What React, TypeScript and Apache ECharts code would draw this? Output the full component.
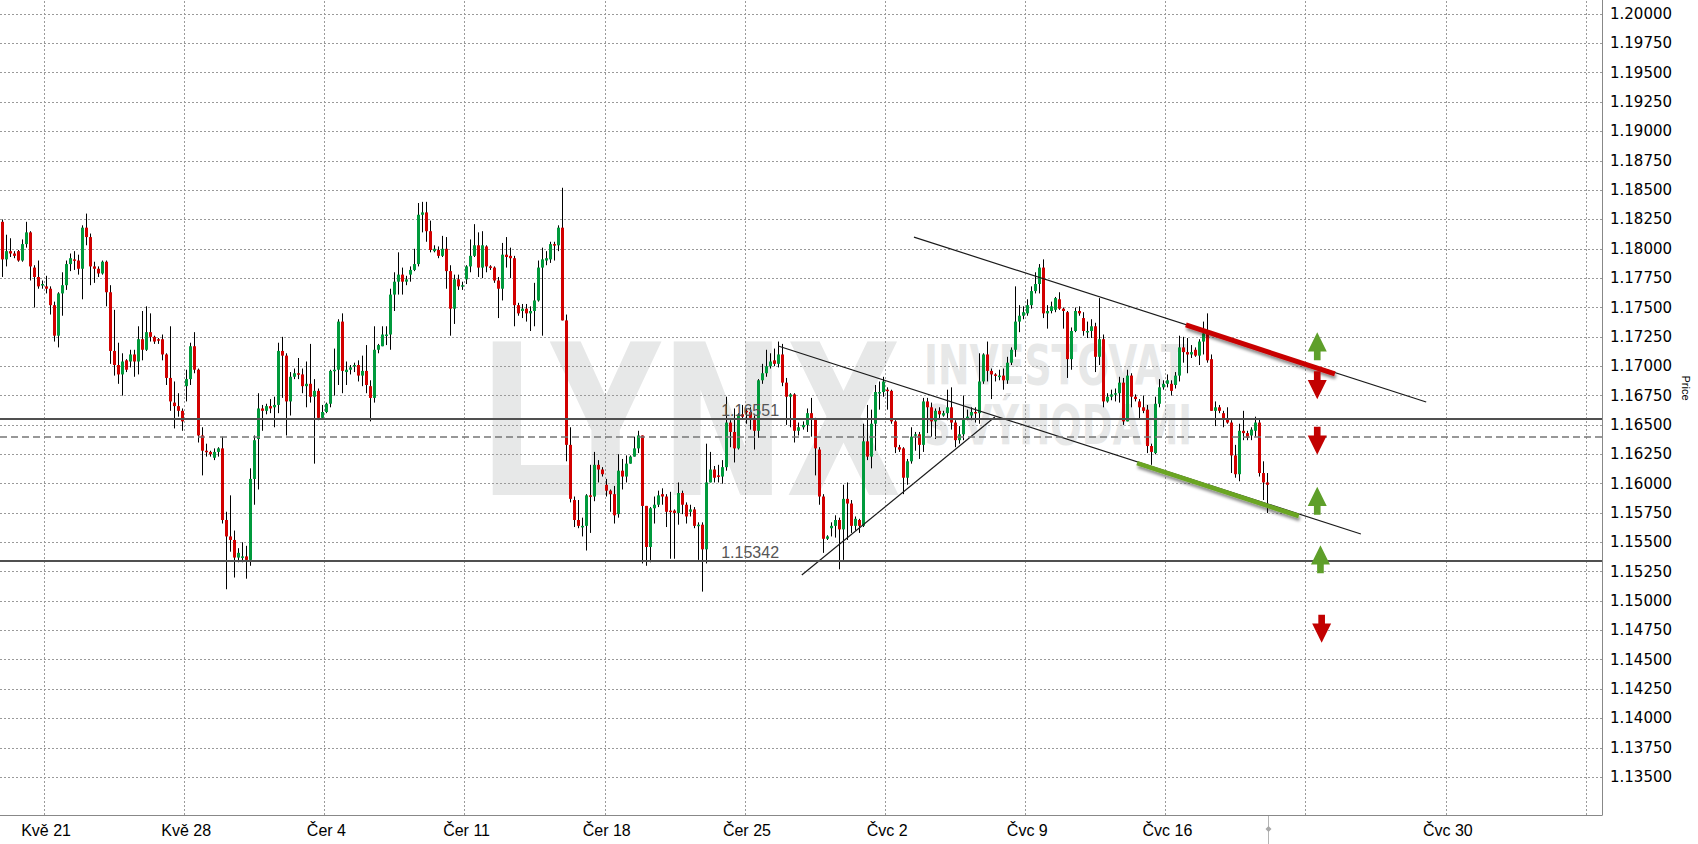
import React, { useEffect, useRef } from 'react';
import * as echarts from 'echarts';

// ---- candle data (4h EUR/USD), index 0..316 ----
const OPEN = [
  1.1823, 1.1791, 1.1798, 1.1796, 1.1798, 1.1790, 1.1804, 1.1814, 1.1784, 1.1776,
  1.1769, 1.1768, 1.1766, 1.1752, 1.1726, 1.1762, 1.1769, 1.1787, 1.1791, 1.1790,
  1.1783, 1.1818, 1.1810, 1.1785, 1.1783, 1.1779, 1.1789, 1.1763, 1.1713, 1.1701,
  1.1693, 1.1705, 1.1704, 1.1710, 1.1704, 1.1723, 1.1714, 1.1729, 1.1725, 1.1723,
  1.1723, 1.1710, 1.1690, 1.1669, 1.1666, 1.1662, 1.1683, 1.1689, 1.1717, 1.1697,
  1.1641, 1.1628, 1.1627, 1.1622, 1.1627, 1.1630, 1.1569, 1.1555, 1.1552, 1.1537,
  1.1537, 1.1538, 1.1535, 1.1604, 1.1638, 1.1664, 1.1662, 1.1666, 1.1665, 1.1667,
  1.1713, 1.1709, 1.1670, 1.1691, 1.1694, 1.1693, 1.1683, 1.1685, 1.1674, 1.1679,
  1.1656, 1.1661, 1.1668, 1.1696, 1.1697, 1.1738, 1.1695, 1.1697, 1.1700, 1.1701,
  1.1692, 1.1696, 1.1683, 1.1673, 1.1714, 1.1717, 1.1726, 1.1727, 1.1761, 1.1772,
  1.1778, 1.1772, 1.1778, 1.1782, 1.1787, 1.1829, 1.1831, 1.1815, 1.1798, 1.1799,
  1.1794, 1.1800, 1.1781, 1.1749, 1.1774, 1.1768, 1.1774, 1.1785, 1.1794, 1.1803,
  1.1784, 1.1802, 1.1785, 1.1784, 1.1773, 1.1766, 1.1795, 1.1794, 1.1792, 1.1752,
  1.1747, 1.1749, 1.1745, 1.1747, 1.1756, 1.1784, 1.1790, 1.1791, 1.1804, 1.1803,
  1.1818, 1.1739, 1.1633, 1.1586, 1.1569, 1.1563, 1.1564, 1.1590, 1.1589, 1.1616,
  1.1612, 1.1599, 1.1594, 1.1591, 1.1574, 1.1611, 1.1606, 1.1617, 1.1623, 1.1630,
  1.1641, 1.1581, 1.1546, 1.1579, 1.1582, 1.1591, 1.1589, 1.1577, 1.1577, 1.1575,
  1.1592, 1.1582, 1.1576, 1.1578, 1.1564, 1.1565, 1.1544, 1.1601, 1.1612, 1.1607,
  1.1606, 1.1614, 1.1652, 1.1644, 1.1630, 1.1659, 1.1662, 1.1661, 1.1656, 1.1645,
  1.1688, 1.1694, 1.1700, 1.1705, 1.1702, 1.1710, 1.1686, 1.1674, 1.1676, 1.1645,
  1.1648, 1.1650, 1.1660, 1.1655, 1.1629, 1.1589, 1.1553, 1.1562, 1.1564, 1.1569,
  1.1561, 1.1587, 1.1583, 1.1564, 1.1569, 1.1564, 1.1636, 1.1623, 1.1651, 1.1677,
  1.1678, 1.1680, 1.1679, 1.1653, 1.1631, 1.1630, 1.1605, 1.1619, 1.1641, 1.1642,
  1.1633, 1.1670, 1.1665, 1.1653, 1.1662, 1.1658, 1.1660, 1.1665, 1.1652, 1.1637,
  1.1642, 1.1655, 1.1658, 1.1661, 1.1660, 1.1687, 1.1710, 1.1696, 1.1693, 1.1691,
  1.1692, 1.1688, 1.1703, 1.1714, 1.1738, 1.1743, 1.1745, 1.1752, 1.1764, 1.1770,
  1.1784, 1.1745, 1.1747, 1.1748, 1.1757, 1.1749, 1.1746, 1.1706, 1.1730, 1.1747,
  1.1741, 1.1729, 1.1730, 1.1734, 1.1708, 1.1723, 1.1670, 1.1674, 1.1676, 1.1677,
  1.1686, 1.1653, 1.1692, 1.1674, 1.1670, 1.1665, 1.1663, 1.1632, 1.1626, 1.1668,
  1.1682, 1.1685, 1.1685, 1.1684, 1.1692, 1.1716, 1.1712, 1.1710, 1.1714, 1.1709,
  1.1721, 1.1728, 1.1706, 1.1662, 1.1665, 1.1660, 1.1655, 1.1652, 1.1624, 1.1608,
  1.1645, 1.1643, 1.1641, 1.1645, 1.1652, 1.1609, 1.1601,
];
const CLOSE = [
  1.1791, 1.1798, 1.1796, 1.1794, 1.1790, 1.1804, 1.1814, 1.1785, 1.1776, 1.1768,
  1.1770, 1.1766, 1.1752, 1.1726, 1.1762, 1.1769, 1.1787, 1.1792, 1.1790, 1.1783,
  1.1818, 1.1810, 1.1785, 1.1783, 1.1779, 1.1789, 1.1763, 1.1713, 1.1701, 1.1693,
  1.1704, 1.1697, 1.1710, 1.1704, 1.1723, 1.1714, 1.1729, 1.1725, 1.1721, 1.1722,
  1.1710, 1.1690, 1.1670, 1.1666, 1.1662, 1.1653, 1.1689, 1.1717, 1.1697, 1.1641,
  1.1628, 1.1627, 1.1625, 1.1627, 1.1630, 1.1569, 1.1555, 1.1552, 1.1537, 1.1541,
  1.1538, 1.1535, 1.1604, 1.1637, 1.1664, 1.1662, 1.1666, 1.1664, 1.1667, 1.1713,
  1.1709, 1.1670, 1.1691, 1.1694, 1.1693, 1.1683, 1.1685, 1.1674, 1.1679, 1.1656,
  1.1661, 1.1668, 1.1696, 1.1697, 1.1738, 1.1696, 1.1697, 1.1699, 1.1701, 1.1692,
  1.1696, 1.1684, 1.1673, 1.1714, 1.1718, 1.1727, 1.1727, 1.1761, 1.1772, 1.1778,
  1.1772, 1.1774, 1.1782, 1.1787, 1.1829, 1.1831, 1.1815, 1.1799, 1.1800, 1.1794,
  1.1800, 1.1781, 1.1749, 1.1774, 1.1768, 1.1769, 1.1785, 1.1794, 1.1803, 1.1784,
  1.1803, 1.1785, 1.1784, 1.1773, 1.1766, 1.1795, 1.1793, 1.1792, 1.1752, 1.1745,
  1.1749, 1.1745, 1.1747, 1.1756, 1.1784, 1.1791, 1.1792, 1.1804, 1.1803, 1.1818,
  1.1739, 1.1633, 1.1587, 1.1569, 1.1564, 1.1564, 1.1590, 1.1589, 1.1616, 1.1612,
  1.1608, 1.1594, 1.1591, 1.1573, 1.1611, 1.1606, 1.1617, 1.1623, 1.1630, 1.1641,
  1.1581, 1.1546, 1.1579, 1.1582, 1.1590, 1.1589, 1.1576, 1.1576, 1.1575, 1.1592,
  1.1582, 1.1572, 1.1578, 1.1564, 1.1565, 1.1544, 1.1601, 1.1612, 1.1605, 1.1606,
  1.1614, 1.1652, 1.1644, 1.1630, 1.1659, 1.1657, 1.1661, 1.1656, 1.1645, 1.1688,
  1.1694, 1.1700, 1.1704, 1.1702, 1.1710, 1.1686, 1.1674, 1.1676, 1.1645, 1.1648,
  1.1650, 1.1660, 1.1655, 1.1630, 1.1589, 1.1553, 1.1555, 1.1564, 1.1569, 1.1561,
  1.1587, 1.1583, 1.1564, 1.1570, 1.1564, 1.1636, 1.1623, 1.1651, 1.1678, 1.1678,
  1.1687, 1.1679, 1.1653, 1.1631, 1.1629, 1.1605, 1.1619, 1.1640, 1.1642, 1.1633,
  1.1670, 1.1665, 1.1653, 1.1662, 1.1659, 1.1660, 1.1665, 1.1652, 1.1637, 1.1642,
  1.1655, 1.1657, 1.1661, 1.1660, 1.1687, 1.1710, 1.1696, 1.1693, 1.1692, 1.1692,
  1.1688, 1.1703, 1.1714, 1.1738, 1.1743, 1.1746, 1.1752, 1.1764, 1.1770, 1.1784,
  1.1745, 1.1747, 1.1751, 1.1758, 1.1749, 1.1747, 1.1706, 1.1730, 1.1747, 1.1745,
  1.1730, 1.1730, 1.1734, 1.1708, 1.1723, 1.1670, 1.1674, 1.1676, 1.1677, 1.1686,
  1.1653, 1.1692, 1.1674, 1.1672, 1.1665, 1.1662, 1.1632, 1.1627, 1.1668, 1.1682,
  1.1685, 1.1688, 1.1679, 1.1692, 1.1716, 1.1712, 1.1710, 1.1712, 1.1709, 1.1721,
  1.1728, 1.1705, 1.1662, 1.1665, 1.1662, 1.1655, 1.1652, 1.1624, 1.1608, 1.1645,
  1.1643, 1.1639, 1.1646, 1.1652, 1.1609, 1.1601, 1.1599,
];
const LOW = [
  1.1776, 1.1785, 1.1793, 1.1792, 1.1789, 1.1789, 1.1801, 1.1773, 1.1750, 1.1766,
  1.1766, 1.1762, 1.1744, 1.1721, 1.1716, 1.1743, 1.1765, 1.1781, 1.1782, 1.1778,
  1.1757, 1.1803, 1.1769, 1.1771, 1.1776, 1.1778, 1.1751, 1.1702, 1.1692, 1.1685,
  1.1675, 1.1695, 1.1699, 1.1691, 1.1693, 1.1705, 1.1713, 1.1721, 1.1719, 1.1719,
  1.1705, 1.1684, 1.1662, 1.1647, 1.1657, 1.1645, 1.1670, 1.1684, 1.1694, 1.1635,
  1.1607, 1.1623, 1.1623, 1.1620, 1.1623, 1.1566, 1.1510, 1.1542, 1.1520, 1.1533,
  1.1533, 1.1519, 1.1530, 1.1582, 1.1595, 1.1645, 1.1659, 1.1660, 1.1648, 1.1660,
  1.1673, 1.1641, 1.1658, 1.1689, 1.1689, 1.1677, 1.1665, 1.1669, 1.1617, 1.1654,
  1.1655, 1.1660, 1.1665, 1.1675, 1.1684, 1.1677, 1.1684, 1.1693, 1.1695, 1.1687,
  1.1683, 1.1677, 1.1653, 1.1669, 1.1711, 1.1717, 1.1718, 1.1714, 1.1747, 1.1761,
  1.1761, 1.1769, 1.1772, 1.1781, 1.1785, 1.1814, 1.1806, 1.1797, 1.1797, 1.1792,
  1.1793, 1.1766, 1.1726, 1.1736, 1.1765, 1.1765, 1.1770, 1.1780, 1.1793, 1.1776,
  1.1775, 1.1780, 1.1782, 1.1771, 1.1741, 1.1756, 1.1784, 1.1775, 1.1734, 1.1743,
  1.1741, 1.1738, 1.1730, 1.1734, 1.1755, 1.1726, 1.1786, 1.1788, 1.1790, 1.1798,
  1.1739, 1.1619, 1.1584, 1.1563, 1.1562, 1.1555, 1.1543, 1.1558, 1.1585, 1.1601,
  1.1606, 1.1589, 1.1576, 1.1566, 1.1571, 1.1595, 1.1601, 1.1617, 1.1623, 1.1626,
  1.1532, 1.1530, 1.1533, 1.1566, 1.1580, 1.1582, 1.1563, 1.1536, 1.1536, 1.1565,
  1.1574, 1.1566, 1.1572, 1.1562, 1.1535, 1.1508, 1.1532, 1.1601, 1.1601, 1.1601,
  1.1600, 1.1611, 1.1631, 1.1618, 1.1629, 1.1655, 1.1651, 1.1646, 1.1629, 1.1639,
  1.1685, 1.1691, 1.1698, 1.1700, 1.1699, 1.1683, 1.1650, 1.1648, 1.1635, 1.1641,
  1.1646, 1.1644, 1.1640, 1.1607, 1.1582, 1.1541, 1.1552, 1.1555, 1.1554, 1.1527,
  1.1535, 1.1552, 1.1558, 1.1560, 1.1558, 1.1563, 1.1620, 1.1613, 1.1628, 1.1663,
  1.1674, 1.1663, 1.1651, 1.1626, 1.1627, 1.1591, 1.1599, 1.1617, 1.1628, 1.1621,
  1.1627, 1.1643, 1.1640, 1.1638, 1.1655, 1.1657, 1.1654, 1.1646, 1.1631, 1.1634,
  1.1637, 1.1654, 1.1654, 1.1652, 1.1651, 1.1685, 1.1687, 1.1672, 1.1687, 1.1688,
  1.1680, 1.1685, 1.1701, 1.1708, 1.1729, 1.1740, 1.1743, 1.1749, 1.1762, 1.1762,
  1.1741, 1.1732, 1.1745, 1.1746, 1.1748, 1.1732, 1.1690, 1.1697, 1.1729, 1.1743,
  1.1726, 1.1724, 1.1724, 1.1695, 1.1701, 1.1665, 1.1669, 1.1671, 1.1670, 1.1669,
  1.1650, 1.1653, 1.1665, 1.1670, 1.1655, 1.1660, 1.1626, 1.1616, 1.1625, 1.1665,
  1.1680, 1.1682, 1.1675, 1.1681, 1.1687, 1.1703, 1.1694, 1.1707, 1.1708, 1.1701,
  1.1710, 1.1703, 1.1662, 1.1649, 1.1660, 1.1648, 1.1651, 1.1609, 1.1605, 1.1602,
  1.1637, 1.1637, 1.1637, 1.1640, 1.1606, 1.1586, 1.1575,
];
const HIGH = [
  1.1825, 1.1812, 1.1809, 1.1798, 1.1799, 1.1808, 1.1823, 1.1815, 1.1786, 1.1790,
  1.1773, 1.1777, 1.1768, 1.1755, 1.1763, 1.1780, 1.1790, 1.1796, 1.1798, 1.1795,
  1.1820, 1.1830, 1.1813, 1.1789, 1.1785, 1.1790, 1.1790, 1.1769, 1.1748, 1.1720,
  1.1711, 1.1706, 1.1714, 1.1714, 1.1734, 1.1747, 1.1751, 1.1745, 1.1726, 1.1724,
  1.1727, 1.1711, 1.1734, 1.1687, 1.1677, 1.1664, 1.1697, 1.1720, 1.1729, 1.1698,
  1.1648, 1.1634, 1.1628, 1.1630, 1.1631, 1.1640, 1.1576, 1.1590, 1.1560, 1.1545,
  1.1550, 1.1547, 1.1613, 1.1641, 1.1677, 1.1667, 1.1668, 1.1672, 1.1674, 1.1720,
  1.1725, 1.1711, 1.1695, 1.1698, 1.1707, 1.1698, 1.1704, 1.1719, 1.1689, 1.1681,
  1.1667, 1.1669, 1.1697, 1.1715, 1.1740, 1.1745, 1.1704, 1.1701, 1.1703, 1.1705,
  1.1709, 1.1718, 1.1688, 1.1734, 1.1719, 1.1734, 1.1734, 1.1766, 1.1780, 1.1797,
  1.1784, 1.1777, 1.1785, 1.1800, 1.1839, 1.1840, 1.1840, 1.1824, 1.1803, 1.1802,
  1.1811, 1.1810, 1.1786, 1.1778, 1.1778, 1.1772, 1.1786, 1.1808, 1.1821, 1.1814,
  1.1815, 1.1803, 1.1786, 1.1785, 1.1776, 1.1805, 1.1810, 1.1801, 1.1794, 1.1754,
  1.1753, 1.1753, 1.1751, 1.1771, 1.1790, 1.1801, 1.1798, 1.1806, 1.1806, 1.1820,
  1.1852, 1.1744, 1.1648, 1.1589, 1.1586, 1.1571, 1.1591, 1.1616, 1.1627, 1.1620,
  1.1614, 1.1604, 1.1595, 1.1598, 1.1625, 1.1621, 1.1624, 1.1624, 1.1640, 1.1645,
  1.1641, 1.1581, 1.1580, 1.1589, 1.1594, 1.1596, 1.1591, 1.1593, 1.1578, 1.1601,
  1.1594, 1.1584, 1.1582, 1.1580, 1.1567, 1.1567, 1.1634, 1.1627, 1.1615, 1.1616,
  1.1620, 1.1674, 1.1654, 1.1664, 1.1660, 1.1667, 1.1664, 1.1665, 1.1658, 1.1689,
  1.1702, 1.1714, 1.1711, 1.1715, 1.1721, 1.1719, 1.1690, 1.1677, 1.1677, 1.1652,
  1.1653, 1.1664, 1.1673, 1.1656, 1.1631, 1.1591, 1.1556, 1.1567, 1.1573, 1.1571,
  1.1599, 1.1601, 1.1586, 1.1572, 1.1570, 1.1651, 1.1667, 1.1663, 1.1684, 1.1687,
  1.1691, 1.1682, 1.1680, 1.1654, 1.1633, 1.1631, 1.1621, 1.1648, 1.1644, 1.1644,
  1.1673, 1.1673, 1.1669, 1.1664, 1.1665, 1.1662, 1.1680, 1.1682, 1.1654, 1.1649,
  1.1675, 1.1663, 1.1665, 1.1665, 1.1711, 1.1711, 1.1721, 1.1698, 1.1694, 1.1697,
  1.1698, 1.1708, 1.1716, 1.1768, 1.1752, 1.1751, 1.1757, 1.1768, 1.1780, 1.1787,
  1.1791, 1.1752, 1.1755, 1.1759, 1.1763, 1.1750, 1.1747, 1.1733, 1.1750, 1.1751,
  1.1746, 1.1738, 1.1740, 1.1737, 1.1758, 1.1727, 1.1677, 1.1680, 1.1681, 1.1691,
  1.1690, 1.1697, 1.1694, 1.1676, 1.1672, 1.1675, 1.1667, 1.1634, 1.1674, 1.1689,
  1.1688, 1.1693, 1.1688, 1.1695, 1.1726, 1.1725, 1.1724, 1.1718, 1.1716, 1.1723,
  1.1738, 1.1745, 1.1710, 1.1670, 1.1667, 1.1662, 1.1665, 1.1654, 1.1633, 1.1651,
  1.1662, 1.1645, 1.1648, 1.1657, 1.1655, 1.1619, 1.1609,
];

// ---- axes ----
const SLOT_COUNT = 400; // candle slots on the time axis (incl. empty future slots)
const WEEK_START = [11, 46, 81, 116, 151, 186, 221, 256, 291, 326, 361, 396];
const WEEK_LABELS = ['Kvě 21', 'Kvě 28', 'Čer 4', 'Čer 11', 'Čer 18', 'Čer 25', 'Čvc 2', 'Čvc 9', 'Čvc 16', '', 'Čvc 30', ''];
const Y_TICKS = [
  1.135, 1.1375, 1.14, 1.1425, 1.145, 1.1475, 1.15, 1.1525, 1.155, 1.1575,
  1.16, 1.1625, 1.165, 1.1675, 1.17, 1.1725, 1.175, 1.1775, 1.18, 1.1825,
  1.185, 1.1875, 1.19, 1.1925, 1.195, 1.1975, 1.2,
];
const Y_MIN = 1.131772;
const Y_MAX = 1.201193;

// ---- annotations (x in slot units, y in price) ----
const PRICE_LEVELS = [1.16551, 1.15342];
const LEVEL_LABEL_X = 187.3;
const DASHED_LEVEL = 1.164;
const TREND_LINES = [
  [194.3, 1.17172, 339.8, 1.15571],
  [200.2, 1.15221, 248.4, 1.16567],
  [228.2, 1.181, 356.1, 1.16695],
];
const RED_SEGMENT = [296.1, 1.17351, 333.3, 1.16934];
const GREEN_SEGMENT = [283.9, 1.16175, 324.3, 1.15724];
const ARROWS = [
  { x: 328.9, y: 1.1717, dir: 'up' },
  { x: 328.9, y: 1.16837, dir: 'down' },
  { x: 328.9, y: 1.16365, dir: 'down' },
  { x: 328.9, y: 1.15854, dir: 'up' },
  { x: 329.7, y: 1.15356, dir: 'up' },
  { x: 330.0, y: 1.14764, dir: 'down' },
];

const GREEN = '#009a3c';
const RED = '#d20000';
const ARROW_GREEN = '#5e9f2a';
const ARROW_RED = '#c20000';
const UP_PATH = 'path://M10,0L20,20L13.5,20L13.5,29L6.5,29L6.5,20L0,20Z';
const DOWN_PATH = 'path://M6.5,0L13.5,0L13.5,9L20,9L10,29L0,9L6.5,9Z';
const WM = '#e7e8e8';

function buildOption() {
  const categories = Array.from({ length: SLOT_COUNT }, (_, i) => String(i));
  const labelAt: Record<number, string> = {};
  WEEK_START.forEach((s, k) => (labelAt[s] = WEEK_LABELS[k]));

  const candles = OPEN.map((o, i) => [i, o, CLOSE[i], LOW[i], HIGH[i]]);

  const gridStyle = { color: '#9a9a9a', width: 1, type: [2, 2] };
  const gridLines: any[] = Y_TICKS.map((v) => ({ yAxis: v, lineStyle: gridStyle }));
  WEEK_START.forEach((s) =>
    gridLines.push({ xAxis: s, lineStyle: gridStyle, label: { show: false } })
  );

  const thin = { color: '#1a1a1a', width: 1.2, type: 'solid' };
  const trendData: any[] = TREND_LINES.map((t) => [
    { coord: [t[0], t[1]], lineStyle: thin },
    { coord: [t[2], t[3]], lineStyle: thin },
  ]);
  const shadow = { shadowBlur: 3, shadowColor: 'rgba(0,0,0,0.45)', shadowOffsetX: 1, shadowOffsetY: 3 };
  const redStyle = { color: '#c80000', width: 5, type: 'solid', ...shadow };
  const greenStyle = { color: '#6aa524', width: 4.5, type: 'solid', ...shadow };
  trendData.push([
    { coord: [RED_SEGMENT[0], RED_SEGMENT[1]], lineStyle: redStyle },
    { coord: [RED_SEGMENT[2], RED_SEGMENT[3]], lineStyle: redStyle },
  ]);
  trendData.push([
    { coord: [GREEN_SEGMENT[0], GREEN_SEGMENT[1]], lineStyle: greenStyle },
    { coord: [GREEN_SEGMENT[2], GREEN_SEGMENT[3]], lineStyle: greenStyle },
  ]);
  PRICE_LEVELS.forEach((p) =>
    trendData.push({ yAxis: p, lineStyle: { color: '#505050', width: 2.2, type: 'solid' } })
  );
  trendData.push({ yAxis: DASHED_LEVEL, lineStyle: { color: '#777', width: 1.5, type: [7, 4] } });

  const markPoints: any[] = PRICE_LEVELS.map((p) => ({
    coord: [LEVEL_LABEL_X, p],
    symbol: 'circle',
    symbolSize: 1,
    itemStyle: { color: 'rgba(0,0,0,0)' },
    label: {
      show: true,
      position: 'top',
      distance: 0,
      formatter: p.toFixed(5),
      color: '#555',
      fontSize: 16,
      fontFamily: 'Liberation Sans, Arial, sans-serif',
    },
  }));
  ARROWS.forEach((a) =>
    markPoints.push({
      coord: [a.x, a.y],
      symbol: a.dir === 'up' ? UP_PATH : DOWN_PATH,
      symbolSize: [19, 28],
      itemStyle: { color: a.dir === 'up' ? ARROW_GREEN : ARROW_RED },
      label: { show: false },
    })
  );

  return {
    animation: false,
    backgroundColor: '#ffffff',
    grid: { left: 0, top: 0, right: 96, bottom: 29, containLabel: false },
    xAxis: [
      {
        type: 'category',
        data: categories,
        boundaryGap: true,
        axisLine: { show: true, onZero: false, lineStyle: { color: '#888', width: 1 } },
        axisTick: { show: false },
        axisLabel: {
          interval: (i: number) => !!labelAt[i],
          formatter: (_v: string, i: number) => labelAt[i] || '',
          color: '#000',
          fontSize: 16,
          fontFamily: 'Liberation Sans, Arial, sans-serif',
          margin: 7,
        },
        splitLine: { show: false },
      },
      {
        type: 'value', min: 0, max: SLOT_COUNT, show: false,
        axisLine: { show: false, onZero: false }, splitLine: { show: false },
      },
    ],
    yAxis: {
      type: 'value',
      position: 'right',
      min: Y_MIN,
      max: Y_MAX,
      scale: true,
      axisLine: { show: true, onZero: false, lineStyle: { color: '#888', width: 1 } },
      axisTick: { show: false },
      axisLabel: { show: false },
      splitLine: { show: false },
    },
    graphic: {
      elements: [
        {
          type: 'text', x: 479, y: 423, scaleX: 0.715, z: -1, silent: true,
          style: { text: 'LYNX', fill: WM, fontSize: 210, fontWeight: 'bold', fontFamily: 'DejaVu Sans', align: 'left', verticalAlign: 'middle' },
        },
        {
          type: 'text', x: 924, y: 365, scaleX: 0.685, z: -1, silent: true,
          style: { text: 'INVESTOVAT', fill: WM, fontSize: 55, fontWeight: 'bold', fontFamily: 'DejaVu Sans', align: 'left', verticalAlign: 'middle' },
        },
        {
          type: 'text', x: 924, y: 425, scaleX: 0.675, z: -1, silent: true,
          style: { text: 'S VÝHODAMI', fill: WM, fontSize: 55, fontWeight: 'bold', fontFamily: 'DejaVu Sans', align: 'left', verticalAlign: 'middle' },
        },
        {
          type: 'text', x: 1686, y: 388, rotation: -Math.PI / 2, silent: true,
          style: { text: 'Price', fill: '#000', fontSize: 11, fontFamily: 'Liberation Sans, Arial, sans-serif', align: 'center', verticalAlign: 'middle' },
        },
        {
          type: 'line', silent: true,
          shape: { x1: 1268.5, y1: 816, x2: 1268.5, y2: 844 },
          style: { stroke: '#b4b4b4', lineWidth: 1 },
        },
        {
          type: 'polygon', silent: true,
          shape: { points: [[1268.5, 826], [1271.5, 829], [1268.5, 832], [1265.5, 829]] },
          style: { fill: '#a8a8a8' },
        },
      ],
    },
    series: [
      {
        name: 'grid',
        type: 'line',
        xAxisIndex: 1,
        data: [],
        silent: true,
        markLine: {
          silent: true,
          z: 1,
          precision: 6,
          symbol: ['none', 'none'],
          lineStyle: gridStyle,
          label: {
            show: true,
            position: 'end',
            distance: 8,
            formatter: (p: any) => Number(p.value).toFixed(5),
            color: '#000',
            fontSize: 15,
            fontFamily: 'DejaVu Sans, sans-serif',
          },
          emphasis: { disabled: true },
          data: gridLines,
        },
      },
      {
        name: 'EURUSD',
        type: 'custom',
        xAxisIndex: 0,
        z: 3,
        encode: { x: 0, y: [1, 2, 3, 4] },
        data: candles,
        renderItem: (_params: any, api: any) => {
          const x = api.value(0);
          const o = api.value(1);
          const c = api.value(2);
          const l = api.value(3);
          const h = api.value(4);
          const po = api.coord([x, o]);
          const pc = api.coord([x, c]);
          const pl = api.coord([x, l]);
          const ph = api.coord([x, h]);
          const cx = Math.floor(po[0]) + 0.5;
          const top = Math.min(po[1], pc[1]);
          let hgt = Math.abs(po[1] - pc[1]);
          if (hgt < 1.5) hgt = 1.5;
          return {
            type: 'group',
            children: [
              { type: 'line', shape: { x1: cx, y1: ph[1], x2: cx, y2: pl[1] }, style: { stroke: '#000', lineWidth: 1 } },
              { type: 'rect', shape: { x: cx - 1.5, y: top, width: 3, height: hgt }, style: { fill: c >= o ? GREEN : RED } },
            ],
          };
        },
      },
      {
        name: 'annotations',
        type: 'line',
        xAxisIndex: 1,
        data: [],
        z: 5,
        markLine: {
          silent: true,
          precision: 6,
          symbol: ['none', 'none'],
          label: { show: false },
          emphasis: { disabled: true },
          data: trendData,
        },
        markPoint: {
          silent: true,
          data: markPoints,
        },
      },
    ],
  };
}

export default function App() {
  const ref = useRef<HTMLDivElement>(null);
  useEffect(() => {
    document.body.style.margin = '0';
    const chart = echarts.init(ref.current as HTMLDivElement, null, { renderer: 'svg' });
    chart.setOption(buildOption() as any);
    return () => chart.dispose();
  }, []);
  return (
    <div
      ref={ref}
      style={{ position: 'absolute', left: 0, top: 0, width: 1698, height: 844, background: '#fff' }}
    />
  );
}
